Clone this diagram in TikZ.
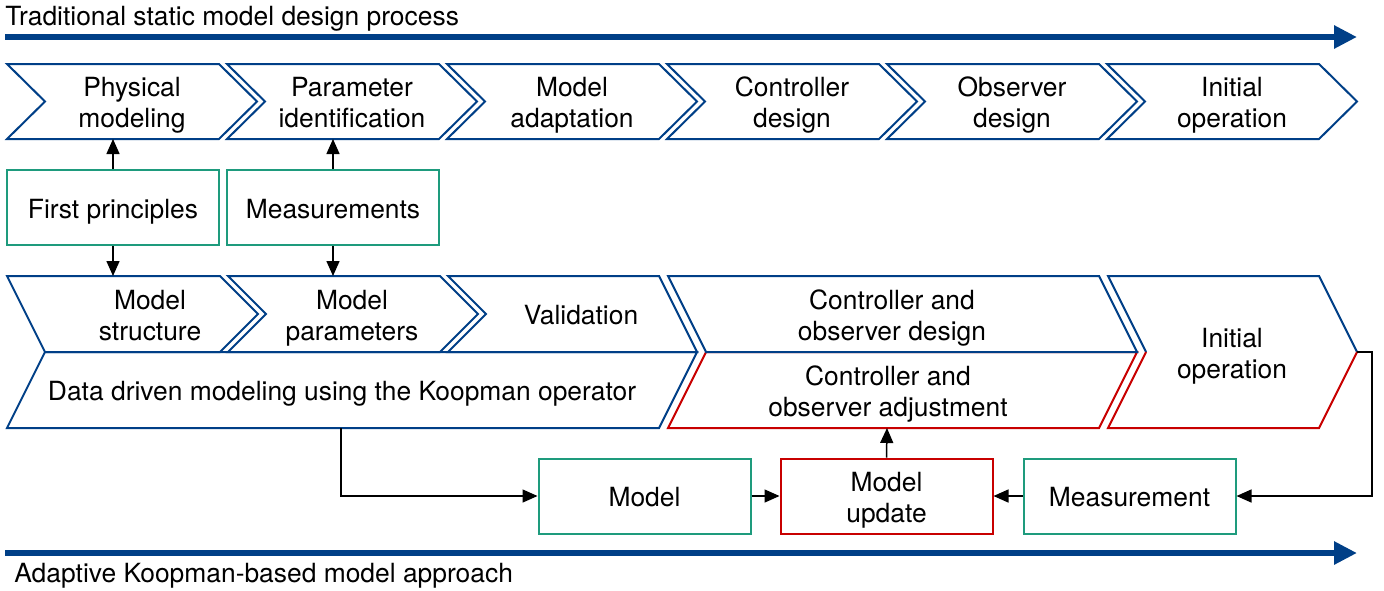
\documentclass[tikz,border=0pt]{standalone}
\usepackage{fontspec}
\setmainfont{TeX Gyre Heros}
\usetikzlibrary{arrows.meta}
\definecolor{procblue}{RGB}{0,63,135}
\definecolor{adaptred}{RGB}{200,0,0}
\definecolor{boxgreen}{RGB}{30,155,125}
% labels set with struts, then lowered a little while keeping their size
\newcommand\lowerone[1]{\raisebox{-2.2pt}[\height][\depth]{\strut #1}}
\newcommand\lowertwo[2]{\raisebox{-2.2pt}[\height][\depth]{\begin{tabular}{@{}c@{}}#1\\#2\end{tabular}}}
\tikzset{
  chev/.style={draw=procblue, line width=1pt, line join=miter},
  chevred/.style={draw=adaptred, line width=1pt, line join=miter},
  lbl/.style={align=center, inner sep=0pt, font=\fontsize{13.2}{15.5}\selectfont},
  gbox/.style={draw=boxgreen, line width=1pt, minimum width=106pt, minimum height=37.5pt, inner sep=0pt, align=center, font=\fontsize{13.2}{15.5}\selectfont},
  rbox/.style={gbox, draw=adaptred},
  conn/.style={draw=black, line width=0.75pt, -{Triangle[length=7.5pt,width=6.5pt]}},
  timeline/.style={draw=procblue, line width=3pt, -{Triangle[length=11.5pt,width=11pt]}},
  heading/.style={anchor=west, inner sep=0pt, yshift=-1.5pt, font=\fontsize{13.2}{15.5}\selectfont}
}
\begin{document}
\begin{tikzpicture}[x=0.5pt, y=-0.5pt]
\useasboundingbox (0,0) rectangle (1384,590);

% ---- traditional process: timeline and heading ----
\node[heading] (toptitle) at (5,16) {Traditional static model design process};
\coordinate (tl0) at (5,37);
\coordinate (tl1) at (1357,37);
\draw[timeline] (tl0) -- (tl1);

% ---- traditional process: chevron row ----
\foreach \x/\nm/\ta/\tb in {7/phys/Physical/modeling, 227/parid/Parameter/identification,
                        447/madapt/Model/adaptation, 667/cdes/Controller/design,
                        887/odes/Observer/design, 1107/initA/Initial/operation}{
  \draw[chev] (\x,64) -- (\x+212,64) -- (\x+250,101.5) -- (\x+212,139) -- (\x,139) -- (\x+38,101.5) -- cycle;
  \node[lbl] (\nm) at (\x+125,101.5) {\lowertwo{\ta}{\tb}};
}
\coordinate (phys-b) at (113,139);
\coordinate (parid-b) at (333,139);

% ---- knowledge sources ----
\node[gbox] (fp) at (113,207.5) {\lowerone{First principles}};
\node[gbox] (meas) at (333,207.5) {\lowerone{Measurements}};

% ---- Koopman approach: upper sub-steps ----
\draw[chev] (7,276) -- (220,276) -- (258,314) -- (220,352) -- (45,352) -- cycle;
\draw[chev] (228,276) -- (440,276) -- (478,314) -- (440,352) -- (228,352) -- (266,314) -- cycle;
\draw[chev] (448,276) -- (659,276) -- (697,352) -- (448,352) -- (486,314) -- cycle;
\node[lbl] (mstruct) at (150,314) {\lowertwo{Model}{structure}};
\node[lbl] (mparam) at (352,314) {\lowertwo{Model}{parameters}};
\node[lbl] (valid) at (581,314) {\lowerone{Validation}};
\coordinate (mstruct-t) at (113,276);
\coordinate (mparam-t) at (333,276);

% ---- data driven modeling ----
\draw[chev] (45,352) -- (697,352) -- (659,428) -- (7,428) -- cycle;
\node[lbl] (ddm) at (342,390) {\lowerone{Data driven modeling using the Koopman operator}};
\coordinate (ddm-b) at (341,428);

% ---- controller / observer ----
\draw[chevred] (706,352) -- (1137,352) -- (1099,428) -- (668,428) -- cycle;
\draw[chev] (668,276) -- (1099,276) -- (1137,352) -- (706,352) -- cycle;
\node[lbl] (cod) at (892,314) {\lowertwo{Controller and}{observer design}};
\node[lbl] (coa) at (888,390) {\lowertwo{Controller and}{observer adjustment}};
\coordinate (coa-b) at (887,428);

% ---- initial operation (split outline) ----
\draw[chev] (1146,352) -- (1108,276) -- (1319,276) -- (1357,352);
\draw[chevred] (1357,352) -- (1319,428) -- (1108,428) -- (1146,352);
\node[lbl] (initB) at (1232,352) {\lowertwo{Initial}{operation}};
\coordinate (initB-tip) at (1357,352);

% ---- adaptation loop boxes ----
\node[gbox] (model) at (644.5,496) {\lowerone{Model}};
\node[rbox] (upd) at (886.5,496) {\lowertwo{Model}{update}};
\node[gbox] (msr) at (1129.5,496) {\lowerone{Measurement}};

% ---- connectors ----
\draw[conn] (fp.north) -- (phys-b);
\draw[conn] (fp.south) -- (mstruct-t);
\draw[conn] (meas.north) -- (parid-b);
\draw[conn] (meas.south) -- (mparam-t);
\draw[conn] (ddm-b) |- (model.west);
\draw[conn] (model.east) -- (upd.west);
\draw[conn] (msr.west) -- (upd.east);
\draw[conn] (upd.north) -- (coa-b);
\draw[conn] (initB-tip) -- ++(15,0) |- (msr.east);

% ---- adaptive approach: timeline and heading ----
\coordinate (bl0) at (5,553);
\coordinate (bl1) at (1357,553);
\draw[timeline] (bl0) -- (bl1);
\node[heading] (bottitle) at (14,573) {Adaptive Koopman-based model approach};
\end{tikzpicture}
\end{document}
